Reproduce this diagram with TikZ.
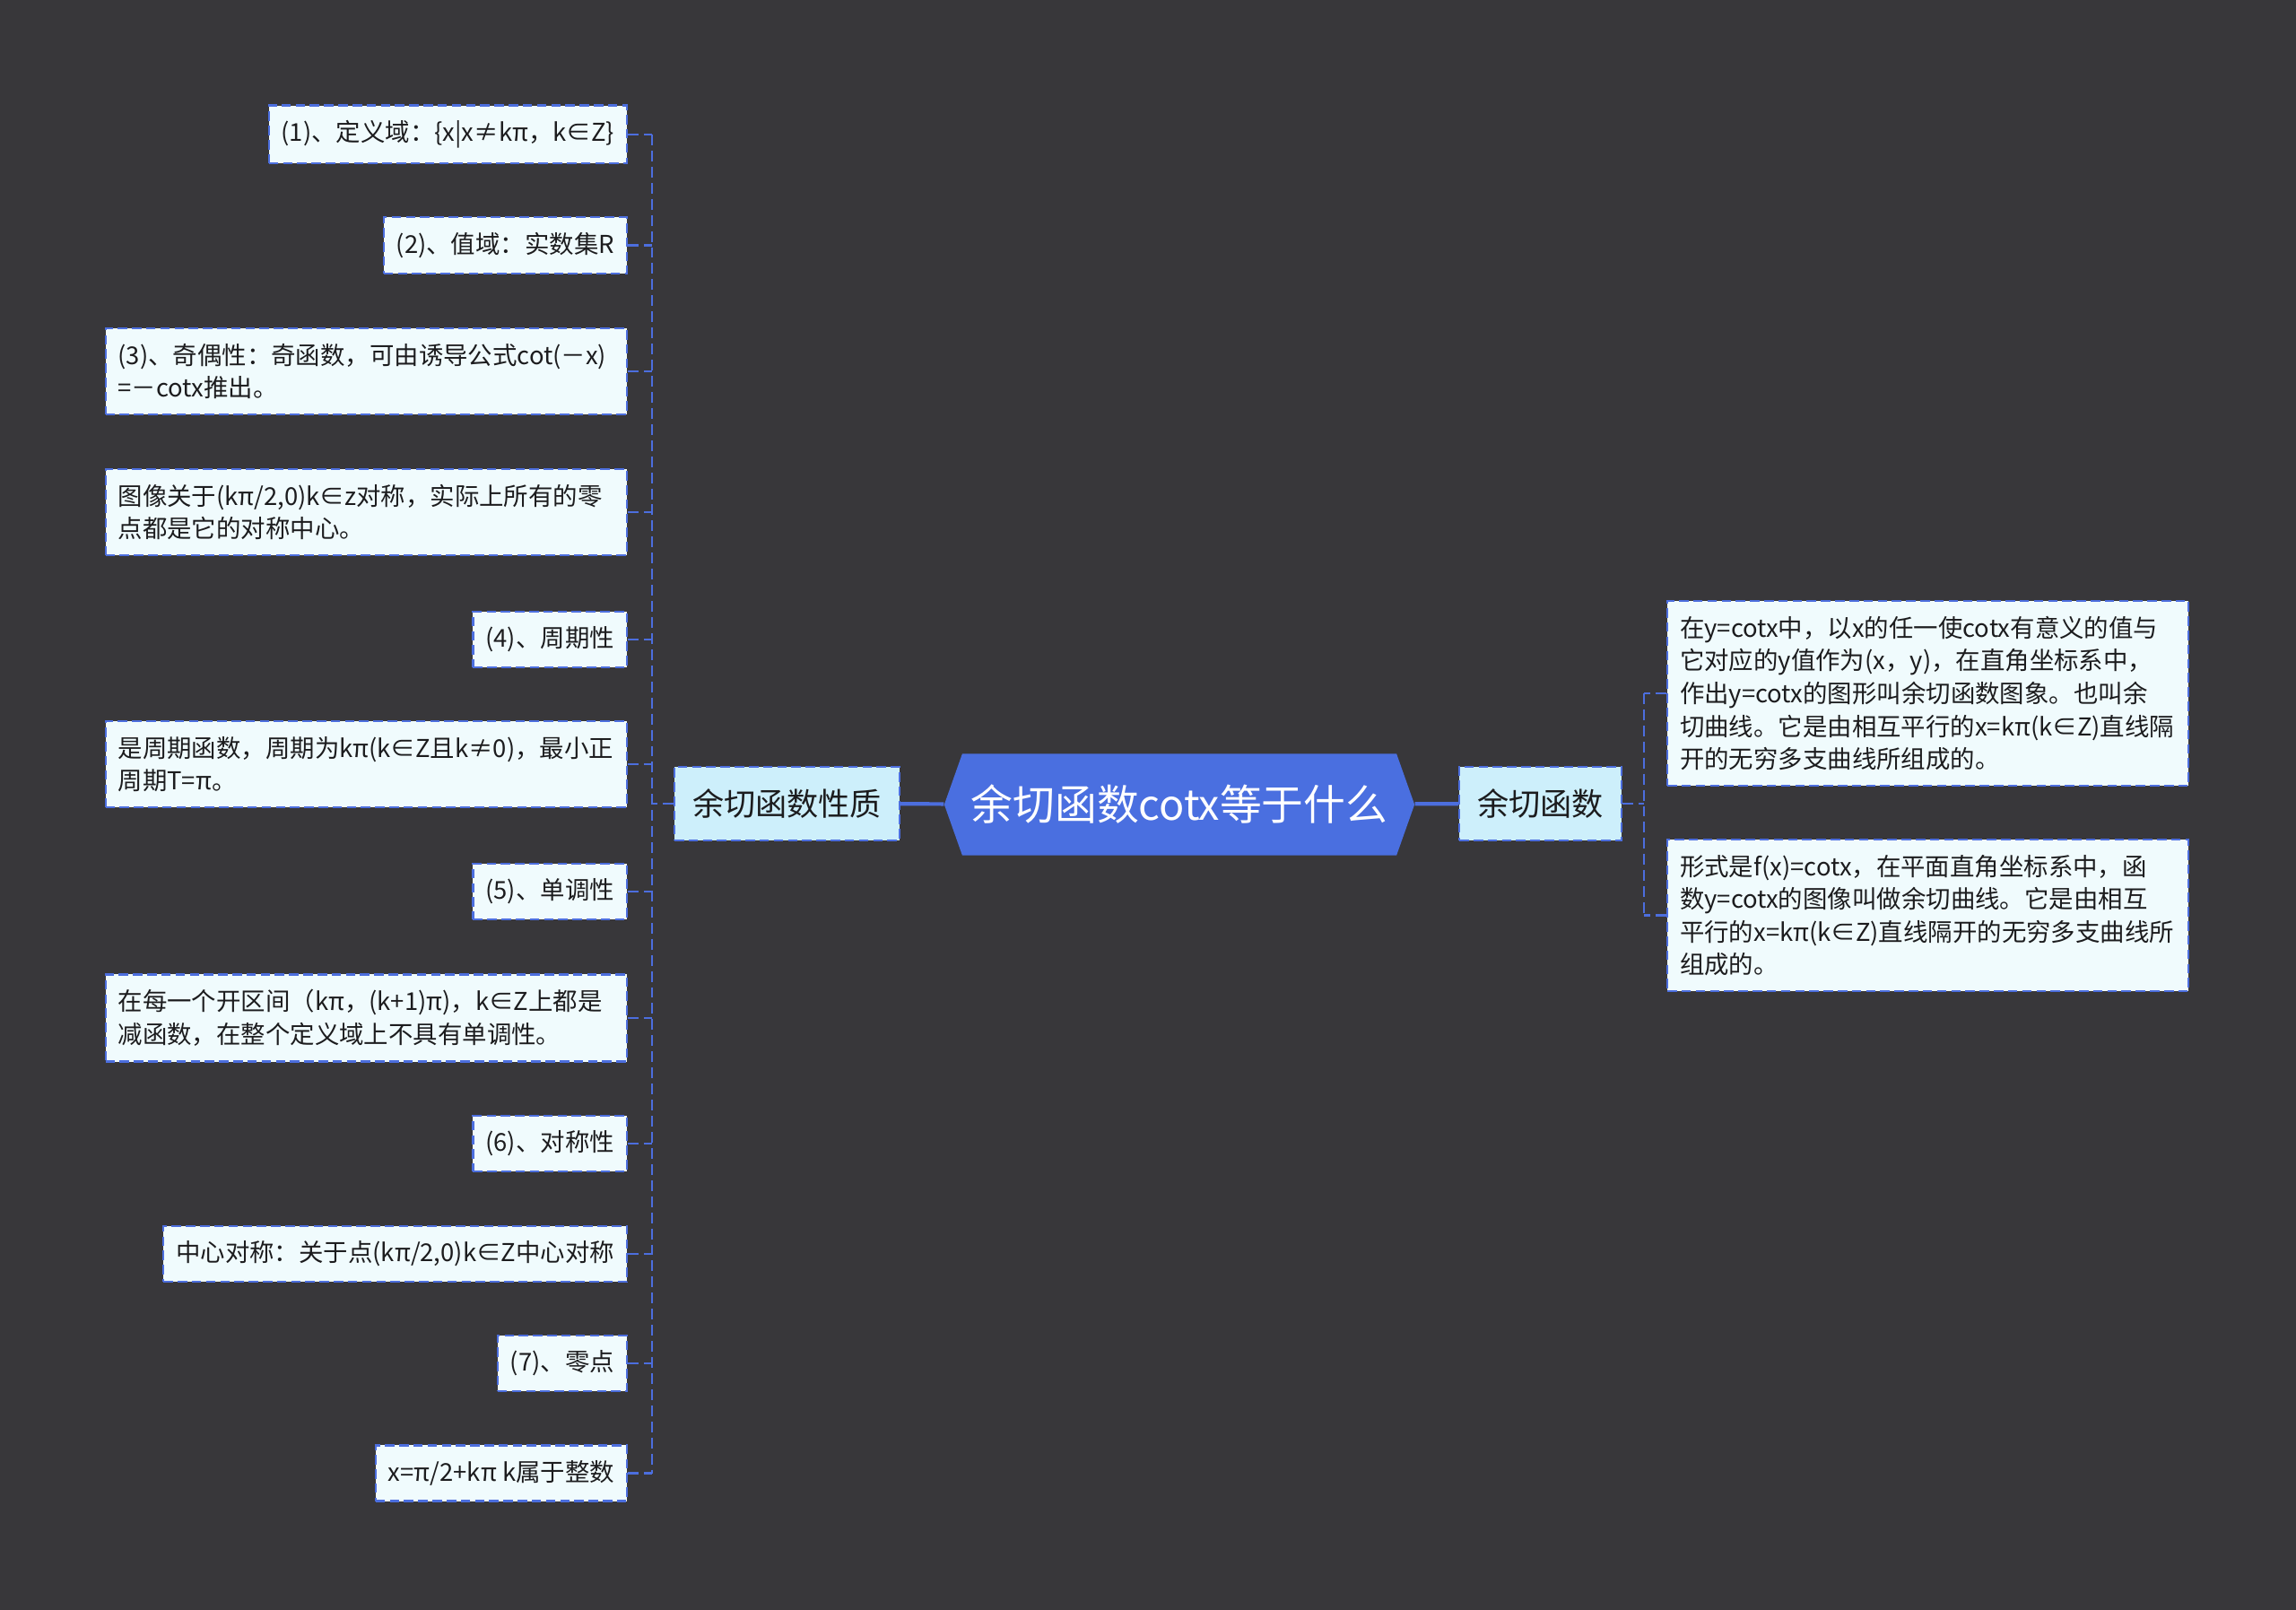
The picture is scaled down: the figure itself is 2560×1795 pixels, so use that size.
\documentclass[tikz,border=0pt]{standalone}
\usepackage{fontspec}
\setmainfont{Noto Sans CJK SC}
\usepackage{tikz}
\usetikzlibrary{shapes.symbols}
\definecolor{bgdark}{RGB}{56,55,58}
\definecolor{linkblue}{RGB}{76,110,222}
\definecolor{rootblue}{RGB}{74,111,224}
\definecolor{topicfill}{RGB}{205,239,251}
\definecolor{leaffill}{RGB}{240,251,253}
\definecolor{inkdark}{RGB}{28,28,30}

\begin{document}
\begin{tikzpicture}[x=0.01cm, y=-0.01cm,
  leaf/.style={draw=linkblue, line width=0.6pt, dash pattern=on 3pt off 1.5pt, fill=leaffill, text=inkdark, font=\fontsize{7.8}{10.4}\selectfont, inner xsep=0.14cm, inner ysep=0.17cm, minimum height=0.62cm, align=left},
  wideleaf/.style={text width=5.53cm},
  topic/.style={draw=linkblue, line width=0.6pt, dash pattern=on 3pt off 1.5pt, fill=topicfill, text=inkdark, font=\fontsize{10}{12}\selectfont, inner xsep=0.2cm, minimum height=0.82cm},
  rootnode/.style={signal, signal to=east and west, signal pointer angle=141, fill=rootblue, text=white, font=\fontsize{13.3}{15}\selectfont, minimum width=5.24cm, minimum height=1.13cm, inner sep=0pt},
  mainlink/.style={draw=linkblue, line width=1.2pt},
  branch/.style={draw=linkblue, line width=0.6pt, dash pattern=on 3.4pt off 1.7pt}]
  \useasboundingbox (0,0) rectangle (2560,1795);
  \fill[bgdark] (0,0) rectangle (2560,1795);
  \node[rootnode] (root) at (1315,897) {余切函数cotx等于什么};
  \node[topic] (prop) at (877.5,896) {余切函数性质};
  \node[topic] (def) at (1717.5,896) {余切函数};
  \node[leaf, anchor=east] (p1) at (700,150) {(1)、定义域：\{x|x≠kπ，k∈Z\}};
  \node[leaf, anchor=east] (p2) at (700,273.5) {(2)、值域：实数集R};
  \node[leaf, wideleaf, anchor=east] (p3) at (700,414) {(3)、奇偶性：奇函数，可由诱导公式cot(－x)\\=－cotx推出。};
  \node[leaf, wideleaf, anchor=east] (p4) at (700,571) {图像关于(kπ/2,0)k∈z对称，实际上所有的零\\点都是它的对称中心。};
  \node[leaf, anchor=east] (p5) at (700,713) {(4)、周期性};
  \node[leaf, wideleaf, anchor=east] (p6) at (700,852) {是周期函数，周期为kπ(k∈Z且k≠0)，最小正\\周期T=π。};
  \node[leaf, anchor=east] (p7) at (700,994) {(5)、单调性};
  \node[leaf, wideleaf, anchor=east] (p8) at (700,1135) {在每一个开区间（kπ，(k+1)π)，k∈Z上都是\\减函数，在整个定义域上不具有单调性。};
  \node[leaf, anchor=east] (p9) at (700,1275) {(6)、对称性};
  \node[leaf, anchor=east] (p10) at (700,1398) {中心对称：关于点(kπ/2,0)k∈Z中心对称};
  \node[leaf, anchor=east] (p11) at (700,1520) {(7)、零点};
  \node[leaf, anchor=east] (p12) at (700,1642.5) {x=π/2+kπ k属于整数};
  \node[leaf, wideleaf, anchor=west] (d1) at (1858,773) {在y=cotx中，以x的任一使cotx有意义的值与\\它对应的y值作为(x，y)，在直角坐标系中，\\作出y=cotx的图形叫余切函数图象。也叫余\\切曲线。它是由相互平行的x=kπ(k∈Z)直线隔\\开的无穷多支曲线所组成的。};
  \node[leaf, wideleaf, anchor=west] (d2) at (1858,1020.5) {形式是f(x)=cotx，在平面直角坐标系中，函\\数y=cotx的图像叫做余切曲线。它是由相互\\平行的x=kπ(k∈Z)直线隔开的无穷多支曲线所\\组成的。};
  \coordinate (ltrunk) at (727,896);
  \coordinate (rtrunk) at (1833,896);
  \draw[mainlink] (prop) -- (root);
  \draw[mainlink] (root) -- (def);
  \draw[branch] (prop.west) -- (ltrunk);
  \draw[branch] (p1.east -| ltrunk) -- (p12.east -| ltrunk);
  \foreach \i in {1,...,12} { \draw[branch] (p\i.east) -- (p\i.east -| ltrunk); }
  \draw[branch] (def.east) -- (rtrunk);
  \draw[branch] (d1.west -| rtrunk) -- (d2.west -| rtrunk);
  \foreach \i in {1,2} { \draw[branch] (d\i.west) -- (d\i.west -| rtrunk); }
\end{tikzpicture}
\end{document}
